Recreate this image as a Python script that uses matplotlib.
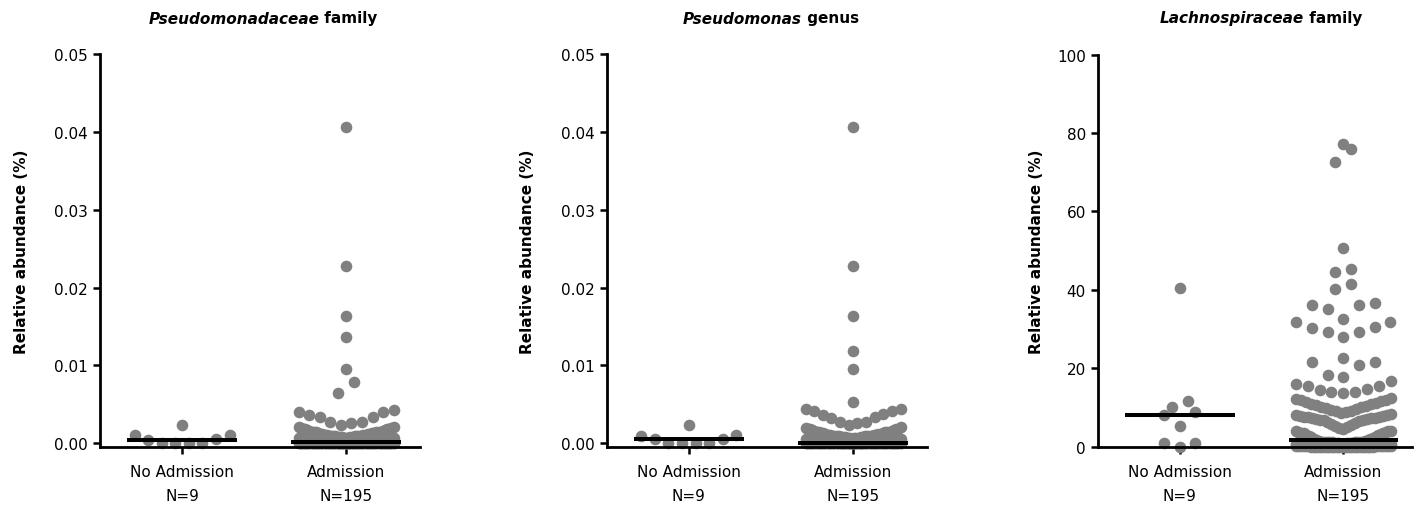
import numpy as np
import matplotlib
matplotlib.use("Agg")
import matplotlib.pyplot as plt

plt.rcParams['font.family'] = ['DejaVu Sans']

W, H = 1414, 510
gray = "#808080"

groups = ["No Admission\nN=9", "Admission\nN=195"]

# --- Pseudomonadaceae family (%) ---
fam_no = [0.0011, 0.0005, 0.0001, 0.0001, 0.0001, 0.0001, 0.0004, 0.0011, 0.0024]
fam_adm_top = [0.0406, 0.0228, 0.0164, 0.0136, 0.0096, 0.0079, 0.0065,
               0.00235, 0.00257, 0.0027, 0.00278, 0.00334, 0.00334, 0.00364,
               0.00398, 0.00406, 0.0043]
# crowded part near zero: value / how many dots
fam_adm_low = [0.0, 0.00005, 0.0001, 0.0002, 0.0003, 0.0004, 0.0005, 0.0006,
               0.0007, 0.0008, 0.0009, 0.0010, 0.0011, 0.0012, 0.0013, 0.0014,
               0.0015, 0.0016, 0.0017, 0.0018, 0.0019, 0.0020, 0.0021]
fam_adm_low_n = [58, 27, 13, 8, 8, 7, 7, 5, 5, 5, 4, 4, 4, 4, 3, 3, 3, 2, 2, 2, 2, 2, 2]

# --- Pseudomonas genus (%) ---
gen_no = [0.0009, 0.0005, 0.0, 0.0, 0.0, 0.0, 0.0005, 0.0011, 0.0024]
gen_adm_top = [0.0406, 0.0228, 0.0164, 0.0118, 0.0096, 0.0053,
               0.0024, 0.0026, 0.0027, 0.0028, 0.0033, 0.0034, 0.0036, 0.0038,
               0.0041, 0.0041, 0.0044, 0.0044]
gen_adm_low = [0.0, 0.00005, 0.0001, 0.0002, 0.0003, 0.0004, 0.0005, 0.0006,
               0.0007, 0.0008, 0.0009, 0.0010, 0.0011, 0.0012, 0.0013, 0.0014,
               0.0015, 0.0016, 0.0017, 0.0018, 0.0019, 0.0020, 0.0021]
gen_adm_low_n = [57, 27, 14, 8, 8, 7, 7, 6, 5, 5, 4, 4, 4, 3, 3, 3, 2, 2, 2, 2, 2, 1, 1]

# --- Lachnospiraceae family (%) ---
lach_no = [40.4, 11.7, 10.2, 8.15, 8.75, 5.2, 0.85, 0.0, 0.85]
lach_adm_top = [77.1, 76.0, 72.6, 50.8, 45.3, 44.5, 41.6, 40.2, 36.6, 36.1, 36.1,
                35.1, 32.5, 31.9, 31.9, 30.6, 30.2, 29.3, 29.3, 28.0, 22.6, 21.5,
                21.5, 20.9, 18.3, 17.9,
                16.7, 16.1, 15.6, 15.5, 14.6, 14.4, 14.0, 14.0, 13.6]
lach_adm_mid = [12.5, 12.2, 12.0, 11.8, 11.6, 11.4, 11.2, 11.0, 10.8, 10.6,
                10.4, 10.2, 10.0, 9.8, 9.6, 9.4, 9.2, 9.0, 8.8, 8.7,
                8.3, 8.1, 8.0, 7.9, 7.8, 7.7, 7.6, 7.5, 7.4, 7.3, 7.2, 7.1,
                7.0, 6.9, 6.8, 6.7, 6.5, 6.3, 6.1, 5.9, 5.6, 5.3, 5.0, 4.7, 4.4,
                4.1, 4.0, 3.9, 3.8, 3.7, 3.6, 3.5, 3.4, 3.3, 3.1, 3.0, 2.8, 2.6,
                2.4, 2.2, 2.0, 1.9]
lach_adm_low = [0.0, 0.1, 0.2, 0.3, 0.5, 0.7, 0.9, 1.1, 1.3, 1.5, 1.8]
lach_adm_low_n = [25, 15, 12, 10, 9, 8, 6, 5, 4, 2, 2]


def place_row(n, step, half):
    sp = step if n < 2 else min(step, 2 * half / (n - 1))
    out = []
    for k in range(n):
        if n % 2:
            m = (k + 1) // 2
            slot = -m if k % 2 else m
        else:
            m = k // 2 + 0.5
            slot = -m if k % 2 == 0 else m
        out.append(slot * sp)
    return out


def spread(vals, h, step, half, cap=45):
    # Prism-like dot layout: rows of close values, lowest in the middle,
    # very crowded rows are laid in several overlapping passes
    v = np.sort(np.asarray(vals, dtype=float), kind="stable")
    off = np.zeros(len(v))
    i = 0
    while i < len(v):
        j = i
        while j < len(v) and v[j] - v[i] < h:
            j += 1
        n = j - i
        layers = int(np.ceil(n / cap))
        cuts = np.linspace(i, j, layers + 1).round().astype(int)
        for a, b in zip(cuts[:-1], cuts[1:]):
            off[a:b] = place_row(b - a, step, half)
        i = j
    return v, off


panels = [
    dict(left=100, right=420, xr=1.45, ylim=(-0.00043, 0.05), top=55.0,
         ticks=[0, 0.01, 0.02, 0.03, 0.04, 0.05],
         labels=["0.00", "0.01", "0.02", "0.03", "0.04", "0.05"],
         ital="Pseudomonadaceae", rest="family", tx=263, lab_x=-0.222,
         no=fam_no, adm=fam_adm_top + list(np.repeat(fam_adm_low, fam_adm_low_n))),
    dict(left=606.7, right=927, xr=1.45, ylim=(-0.00043, 0.05), top=55.0,
         ticks=[0, 0.01, 0.02, 0.03, 0.04, 0.05],
         labels=["0.00", "0.01", "0.02", "0.03", "0.04", "0.05"],
         ital="Pseudomonas", rest="genus", tx=771, lab_x=-0.224,
         no=gen_no, adm=gen_adm_top + list(np.repeat(gen_adm_low, gen_adm_low_n))),
    dict(left=1098, right=1412, xr=1.42, ylim=(0, 100), top=55.6,
         ticks=[0, 20, 40, 60, 80, 100],
         labels=["0", "20", "40", "60", "80", "100"],
         ital="Lachnospiraceae", rest="family", tx=1261, lab_x=-0.172,
         no=lach_no, adm=lach_adm_top + lach_adm_mid + list(np.repeat(lach_adm_low, lach_adm_low_n))),
]

fig = plt.figure(figsize=(W / 100, H / 100), dpi=100)
base = 447.7
titles = []

for p in panels:
    rect = [p["left"] / W, 1 - base / H, (p["right"] - p["left"]) / W, (base - p["top"]) / H]
    ax = fig.add_axes(rect)
    ax.set_xlim(-0.5, p["xr"])
    ax.set_ylim(*p["ylim"])
    ppx = ax.bbox.width / (p["xr"] + 0.5)
    ppy = ax.bbox.height / (p["ylim"][1] - p["ylim"][0])

    for i, vals in enumerate([p["no"], p["adm"]]):
        v, off = spread(vals, 16.5 / ppy, 15.7 / ppx, 47.5 / ppx)
        ax.scatter(i + off, v, s=70, color=gray, linewidths=0, clip_on=False, zorder=2)
        ax.hlines(np.median(vals), i - 0.335, i + 0.335, color="black", lw=2.9, zorder=3)

    for s in ["top", "right"]:
        ax.spines[s].set_visible(False)
    for s in ["left", "bottom"]:
        ax.spines[s].set_linewidth(2.0)
        ax.spines[s].set_color("black")

    ax.set_yticks(p["ticks"])
    ax.set_yticklabels(p["labels"])
    ax.set_xticks([0, 1])
    ax.set_xticklabels(groups, linespacing=1.72)
    ax.tick_params(axis="both", length=4.8, width=1.8, labelsize=11, colors="black")
    ax.tick_params(axis="y", pad=4)
    ax.tick_params(axis="x", pad=8)

    ax.set_ylabel("Relative abundance (%)", fontsize=11, fontweight="bold")
    ax.yaxis.set_label_coords(p["lab_x"], 0.5)

    t1 = fig.text(0, 1 - 23.5 / H, p["ital"], fontsize=11, fontweight="bold",
                  fontstyle="italic", va="baseline", ha="left")
    t2 = fig.text(0, 1 - 23.5 / H, " " + p["rest"], fontsize=11, fontweight="bold",
                  va="baseline", ha="left")
    titles.append((t1, t2, p["tx"]))

r = fig.canvas.get_renderer()
for t1, t2, xc in titles:
    w1 = t1.get_window_extent(r).width
    w2 = t2.get_window_extent(r).width
    x0 = xc - (w1 + w2) / 2
    t1.set_x(x0 / W)
    t2.set_x((x0 + w1) / W)

fig.savefig("out.png", dpi=100)
